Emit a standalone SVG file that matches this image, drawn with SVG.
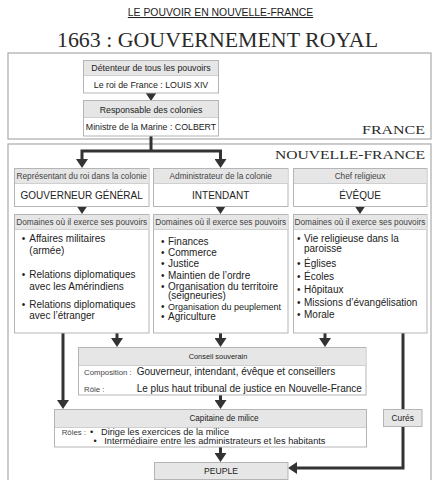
<svg xmlns="http://www.w3.org/2000/svg" width="435" height="480" viewBox="0 0 435 480">
<style>
.t{font-family:"Liberation Sans",Arial,sans-serif;fill:#222}
.s{font-family:"Liberation Serif","Times New Roman",serif;fill:#2a2a2a}
.h{font-size:8.3px;fill:#444}
.b{font-size:8.8px}
.big{font-size:10px}
.li{font-size:10px}
.sm{font-size:7.8px;fill:#444}
.box{fill:#fff;stroke:#b5b5b5;stroke-width:1}
.hdr{fill:#e6e6e6}
.sep{stroke:#cfcfcf;stroke-width:1}
.frame{fill:none;stroke:#aaa;stroke-width:1.2}
.conn{fill:none;stroke:#333;stroke-width:3;stroke-linejoin:miter}
.m{text-anchor:middle}
</style>
<defs>
<marker id="ah" viewBox="0 0 9 12" refX="0.5" refY="6" markerWidth="9" markerHeight="12" markerUnits="userSpaceOnUse" orient="auto">
<path d="M0,0 L9,6 L0,12 z" fill="#333"/>
</marker>
</defs>

<text class="t m" x="220.5" y="16" font-size="10.4" text-decoration="underline">LE POUVOIR EN NOUVELLE-FRANCE</text>
<text class="s m" x="217.5" y="47" font-size="22" textLength="321" lengthAdjust="spacingAndGlyphs">1663 : GOUVERNEMENT ROYAL</text>

<g id="frame-france">
<rect class="frame" x="8" y="53" width="423" height="86"/>
<text class="s" x="362" y="134" font-size="12" textLength="63" lengthAdjust="spacingAndGlyphs">FRANCE</text>
</g>
<g id="frame-nouvelle-france">
<rect class="frame" x="8" y="144" width="423" height="345"/>
<text class="s" x="275" y="159" font-size="12" textLength="150" lengthAdjust="spacingAndGlyphs">NOUVELLE-FRANCE</text>
</g>

<g id="connectors">
<path class="conn" d="M151,92 V92.5" marker-end="url(#ah)"/>
<path class="conn" d="M151,135 V151"/>
<path class="conn" d="M151,151 H82 V159.5" marker-end="url(#ah)"/>
<path class="conn" d="M151,151 H220.5 V159.5" marker-end="url(#ah)"/>
<path class="conn" d="M82,205 V205.5" marker-end="url(#ah)"/>
<path class="conn" d="M220.5,205 V205.5" marker-end="url(#ah)"/>
<path class="conn" d="M360,205 V205.5" marker-end="url(#ah)"/>
<path class="conn" d="M117,333 V338.5" marker-end="url(#ah)"/>
<path class="conn" d="M220.5,333 V338.5" marker-end="url(#ah)"/>
<path class="conn" d="M325,333 V338.5" marker-end="url(#ah)"/>
<path class="conn" d="M63,333 V400.5" marker-end="url(#ah)"/>
<path class="conn" d="M220.5,395 V400.5" marker-end="url(#ah)"/>
<path class="conn" d="M220.5,447 V453.5" marker-end="url(#ah)"/>
<path class="conn" d="M403,333 V468 H296.5" marker-end="url(#ah)"/>
</g>

<g id="detenteur">
<rect class="box" x="83.5" y="60.5" width="135" height="32.5"/>
<rect class="hdr" x="84" y="61" width="134" height="14"/>
<line class="sep" x1="84" y1="75.5" x2="218" y2="75.5"/>
<text class="t b m" x="151" y="71.3" fill="#444">Détenteur de tous les pouvoirs</text>
<text class="t b m" x="151" y="88">Le roi de France : LOUIS XIV</text>
</g>

<g id="responsable">
<rect class="box" x="83.5" y="100.5" width="135" height="35.5"/>
<rect class="hdr" x="84" y="101" width="134" height="16"/>
<line class="sep" x1="84" y1="117.5" x2="218" y2="117.5"/>
<text class="t b m" x="151" y="112.5">Responsable des colonies</text>
<text class="t b m" x="151" y="129.8">Ministre de la Marine : COLBERT</text>
</g>

<g id="gouverneur">
<rect class="box" x="14.5" y="168.5" width="134.5" height="38"/>
<rect class="hdr" x="15" y="169" width="133.5" height="14"/>
<line class="sep" x1="15" y1="183.5" x2="148.5" y2="183.5"/>
<text class="t h m" x="81.7" y="179">Représentant du roi dans la colonie</text>
<text class="t big m" x="81.7" y="199">GOUVERNEUR GÉNÉRAL</text>
</g>

<g id="intendant">
<rect class="box" x="153.5" y="168.5" width="134.5" height="38"/>
<rect class="hdr" x="154" y="169" width="133.5" height="14"/>
<line class="sep" x1="154" y1="183.5" x2="287.5" y2="183.5"/>
<text class="t h m" x="220.7" y="179">Administrateur de la colonie</text>
<text class="t big m" x="220.7" y="199">INTENDANT</text>
</g>

<g id="eveque">
<rect class="box" x="293.5" y="168.5" width="133.5" height="38"/>
<rect class="hdr" x="294" y="169" width="132.5" height="14"/>
<line class="sep" x1="294" y1="183.5" x2="426.5" y2="183.5"/>
<text class="t h m" x="360" y="179">Chef religieux</text>
<text class="t big m" x="360" y="199">ÉVÊQUE</text>
</g>

<g id="domaines-gouverneur">
<rect class="box" x="14.5" y="214.5" width="134.5" height="118.5"/>
<rect class="hdr" x="15" y="215" width="133.5" height="14"/>
<line class="sep" x1="15" y1="229.5" x2="148.5" y2="229.5"/>
<text class="t h m" x="81.7" y="225">Domaines où il exerce ses pouvoirs</text>
<text class="t li" x="21.8" y="242">•<tspan x="29.3">Affaires militaires</tspan></text>
<text class="t li" x="29.3" y="253.5">(armée)</text>
<text class="t li" x="21.8" y="278">•<tspan x="29.3">Relations diplomatiques</tspan></text>
<text class="t li" x="29.3" y="289.5">avec les Amérindiens</text>
<text class="t li" x="21.8" y="307.5">•<tspan x="29.3">Relations diplomatiques</tspan></text>
<text class="t li" x="29.3" y="319">avec l’étranger</text>
</g>

<g id="domaines-intendant">
<rect class="box" x="153.5" y="214.5" width="134.5" height="118.5"/>
<rect class="hdr" x="154" y="215" width="133.5" height="14"/>
<line class="sep" x1="154" y1="229.5" x2="287.5" y2="229.5"/>
<text class="t h m" x="220.7" y="225">Domaines où il exerce ses pouvoirs</text>
<text class="t li" x="161" y="244.5">•<tspan x="168">Finances</tspan></text>
<text class="t li" x="161" y="256">•<tspan x="168">Commerce</tspan></text>
<text class="t li" x="161" y="267">•<tspan x="168">Justice</tspan></text>
<text class="t li" x="161" y="278.5">•<tspan x="168">Maintien de l’ordre</tspan></text>
<text class="t li" x="161" y="289.5">•<tspan x="168">Organisation du territoire</tspan></text>
<text class="t li" x="168" y="299">(seigneuries)</text>
<text class="t li" x="161" y="309.5">•<tspan x="168" font-size="9">Organisation du peuplement</tspan></text>
<text class="t li" x="161" y="320">•<tspan x="168">Agriculture</tspan></text>
</g>

<g id="domaines-eveque">
<rect class="box" x="293.5" y="214.5" width="133.5" height="118.5"/>
<rect class="hdr" x="294" y="215" width="132.5" height="14"/>
<line class="sep" x1="294" y1="229.5" x2="426.5" y2="229.5"/>
<text class="t h m" x="360" y="225">Domaines où il exerce ses pouvoirs</text>
<text class="t li" x="297" y="242">•<tspan x="304">Vie religieuse dans la</tspan></text>
<text class="t li" x="304" y="252">paroisse</text>
<text class="t li" x="297" y="267">•<tspan x="304">Églises</tspan></text>
<text class="t li" x="297" y="280">•<tspan x="304">Écoles</tspan></text>
<text class="t li" x="297" y="293">•<tspan x="304">Hôpitaux</tspan></text>
<text class="t li" x="297" y="305.5">•<tspan x="304">Missions d’évangélisation</tspan></text>
<text class="t li" x="297" y="318">•<tspan x="304">Morale</tspan></text>
</g>

<g id="conseil">
<rect class="box" x="78.5" y="347.5" width="287.5" height="47.5"/>
<rect class="hdr" x="79" y="348" width="286.5" height="17"/>
<line class="sep" x1="79" y1="365.5" x2="365.5" y2="365.5"/>
<text class="t m" x="218" y="359" font-size="7.4" fill="#444">Conseil souverain</text>
<text class="t sm" x="84" y="375">Composition :</text>
<text class="t li" x="136.7" y="375">Gouverneur, intendant, évêque et conseillers</text>
<text class="t sm" x="84" y="392">Rôle :</text>
<text class="t li" x="136.7" y="392" font-size="9.8">Le plus haut tribunal de justice en Nouvelle-France</text>
</g>

<g id="capitaine">
<rect class="box" x="54.5" y="409.5" width="312" height="37.5"/>
<rect class="hdr" x="55" y="410" width="311" height="17"/>
<line class="sep" x1="55" y1="427.5" x2="366" y2="427.5"/>
<text class="t m" x="224" y="420.5" font-size="8.2" fill="#444">Capitaine de milice</text>
<text class="t sm" x="61.7" y="435">Rôles :</text>
<text class="t" x="90" y="435" font-size="9.2">•<tspan x="101">Dirige les exercices de la milice</tspan></text>
<text class="t" x="93.5" y="444" font-size="9.2">•<tspan x="104.3">Intermédiaire entre les administrateurs et les habitants</tspan></text>
</g>

<g id="cures">
<rect class="box" x="383.5" y="409.5" width="38.5" height="17" style="fill:#e6e6e6"/>
<text class="t m" x="402.7" y="420.8" font-size="8.4" fill="#444">Curés</text>
</g>

<g id="peuple">
<rect class="box" x="154.5" y="462.5" width="133.5" height="17" style="fill:#e6e6e6"/>
<text class="t m" x="221" y="474" font-size="8.6" fill="#333">PEUPLE</text>
</g>
</svg>
